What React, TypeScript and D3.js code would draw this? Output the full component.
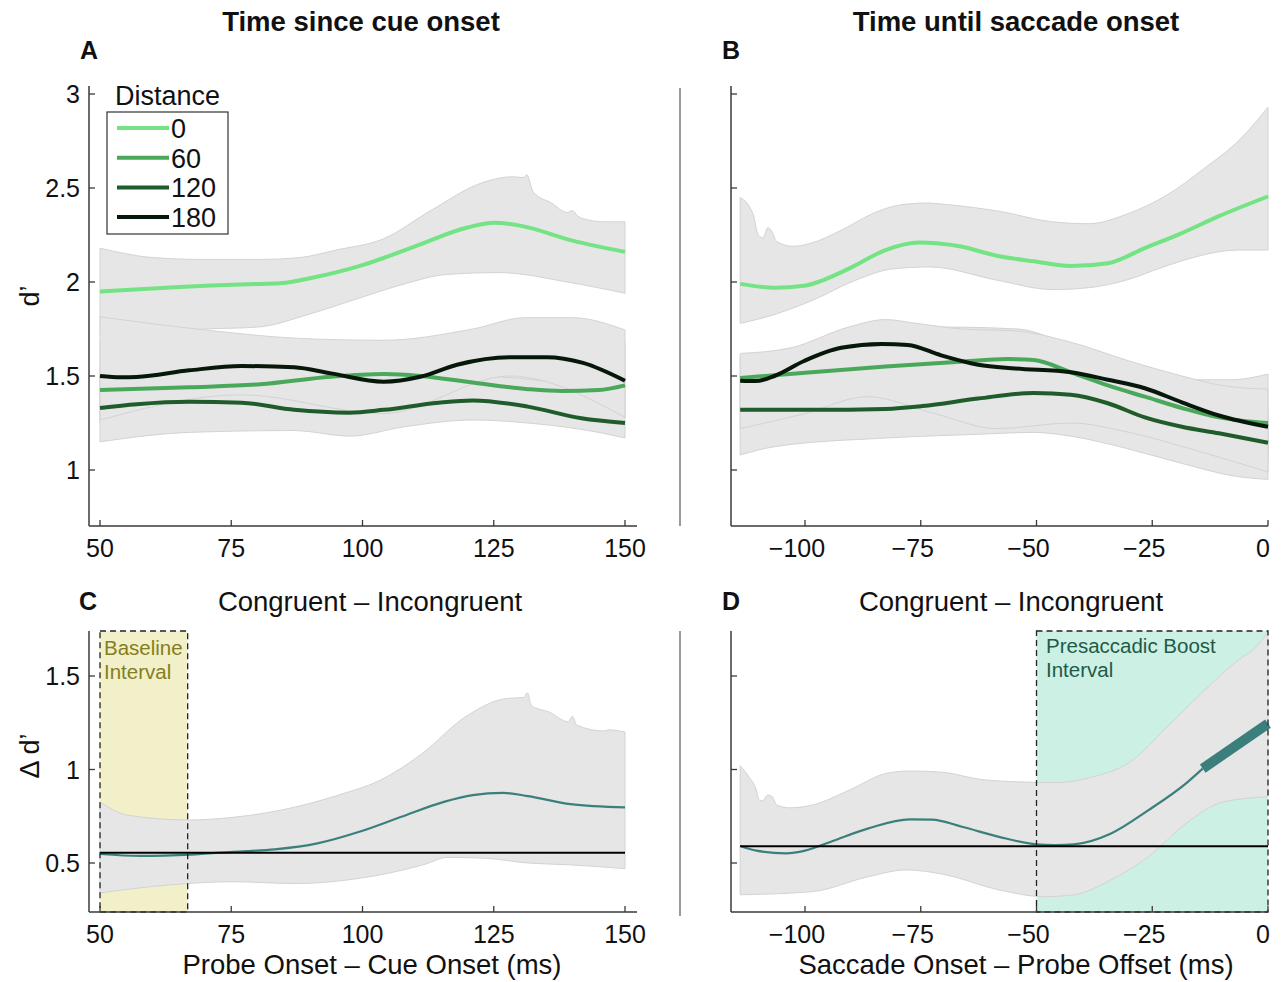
import React from 'react';
import * as d3 from 'd3';

// ---------- Panel A : d' vs time since cue onset ----------
const A_TICKS_X = [50, 75, 100, 125, 150];
const TOP_TICKS_Y = [1, 1.5, 2, 2.5, 3];
const TOP_TICK_LABELS = ['1', '1.5', '2', '2.5', '3'];

const A0_X = [50, 60, 70, 80, 85, 90, 100, 110, 120, 125, 130, 140, 150];
const A0_Y = [1.95, 1.965, 1.98, 1.99, 1.995, 2.02, 2.09, 2.19, 2.29, 2.315, 2.30, 2.22, 2.16];
const A0_UX = [50, 55, 60, 70, 80, 88, 95, 104, 113, 123, 128.6, 130.6, 131.3, 132.5, 136, 139, 140, 141, 143, 146, 150];
const A0_U = [2.18, 2.15, 2.13, 2.12, 2.12, 2.13, 2.17, 2.23, 2.38, 2.53, 2.56, 2.555, 2.57, 2.48, 2.42, 2.37, 2.38, 2.35, 2.33, 2.32, 2.32];
const A0_LX = [50, 60, 70, 80, 90, 100, 108, 116, 126, 139, 150];
const A0_L = [1.72, 1.73, 1.75, 1.76, 1.83, 1.92, 1.99, 2.04, 2.05, 2.0, 1.94];

const A60_X = [50, 67, 80.5, 94, 104, 111, 121, 131.5, 138, 145, 150];
const A60_Y = [1.425, 1.44, 1.456, 1.496, 1.51, 1.50, 1.465, 1.43, 1.42, 1.425, 1.45];
const A60_BX = [50, 80, 104, 121, 138, 150];
const A60_U = [1.68, 1.66, 1.66, 1.68, 1.66, 1.68];
const A60_L = [1.25, 1.28, 1.32, 1.30, 1.27, 1.28];

const A120_X = [50, 57, 67, 77, 87, 97.5, 104, 114.5, 121, 131.5, 141.7, 150];
const A120_Y = [1.33, 1.35, 1.363, 1.358, 1.32, 1.305, 1.32, 1.358, 1.37, 1.337, 1.275, 1.25];
const A120_UX = [50, 77, 104, 121, 141.7, 150];
const A120_U = [1.5, 1.52, 1.48, 1.5, 1.45, 1.42];
const A120_LX = [50, 67, 87, 97.5, 108, 121, 131.5, 145, 150];
const A120_L = [1.15, 1.20, 1.21, 1.18, 1.23, 1.266, 1.25, 1.20, 1.17];

const A180_X = [50, 54, 57, 67, 77, 87, 94, 104, 111, 118, 128, 135, 142, 150];
const A180_Y = [1.50, 1.493, 1.495, 1.53, 1.553, 1.546, 1.514, 1.47, 1.496, 1.56, 1.60, 1.60, 1.57, 1.475];
const A180_UX = [50, 70, 88, 104, 121, 131, 140, 150];
const A180_U = [1.815, 1.745, 1.70, 1.69, 1.75, 1.81, 1.81, 1.745];
const A180_LX = [50, 77, 104, 128, 150];
const A180_L = [1.266, 1.40, 1.30, 1.50, 1.28];

// ---------- Panel B : d' vs time until saccade onset ----------
const B_TICKS_X = [-100, -75, -50, -25, 0];
const B_TICK_LABELS = ['\u2212100', '\u221275', '\u221250', '\u221225', '0'];

const B0_X = [-114, -106.6, -100.2, -90.6, -82.6, -75.4, -66.6, -58.6, -50.6, -42.6, -34.6, -26.6, -18.6, -10.6, 0];
const B0_Y = [1.99, 1.97, 1.98, 2.07, 2.17, 2.21, 2.19, 2.14, 2.11, 2.085, 2.10, 2.18, 2.26, 2.35, 2.455];
const B0_UX = [-114, -111.2, -110.1, -109.1, -108, -107.2, -106.1, -102.6, -98.9, -91.8, -85.3, -79.4, -73.7, -68.6, -57.8, -46.6, -38.6, -30.6, -22, -14, -6, 0];
const B0_U = [2.45, 2.36, 2.25, 2.235, 2.29, 2.27, 2.215, 2.19, 2.205, 2.28, 2.365, 2.41, 2.42, 2.41, 2.375, 2.32, 2.31, 2.36, 2.46, 2.60, 2.76, 2.93];
const B0_LX = [-114, -108.2, -98.6, -89, -81, -73, -58.6, -46.6, -38.6, -30.6, -22.6, -14.6, -6.6, 0];
const B0_L = [1.78, 1.815, 1.90, 2.01, 2.07, 2.08, 2.01, 1.96, 1.97, 2.01, 2.08, 2.14, 2.17, 2.17];

const B60_X = [-114, -98.6, -82.6, -66.6, -56.2, -50.6, -42.6, -34.6, -26.6, -18.6, -10.6, 0];
const B60_Y = [1.49, 1.52, 1.55, 1.576, 1.59, 1.585, 1.52, 1.45, 1.39, 1.33, 1.28, 1.25];
const B60_UX = [-114, -90, -70, -54, -42.6, -30.6, -18.6, -8, 0];
const B60_U = [1.6, 1.7, 1.76, 1.75, 1.66, 1.55, 1.48, 1.48, 1.51];
const B60_LX = [-114, -80, -50, -30, -15, 0];
const B60_L = [1.3, 1.33, 1.33, 1.2, 1.1, 1.05];

const B120_X = [-114, -98.6, -82.6, -74.6, -62.6, -50.6, -42.6, -34.6, -26.6, -18.6, -10.6, 0];
const B120_Y = [1.32, 1.32, 1.325, 1.34, 1.38, 1.41, 1.40, 1.355, 1.28, 1.23, 1.195, 1.145];
const B120_UX = [-114, -80, -50, -30, 0];
const B120_U = [1.5, 1.5, 1.55, 1.45, 1.3];
const B120_LX = [-114, -106.6, -82.6, -62.6, -50.6, -42.6, -30.6, -18.6, -6.6, 0];
const B120_L = [1.08, 1.124, 1.17, 1.19, 1.20, 1.18, 1.115, 1.035, 0.965, 0.95];

const B180_X = [-114, -110.6, -106.6, -100.2, -92.2, -83.4, -77.8, -70.6, -62.6, -54.6, -42.6, -34.6, -26.6, -18.6, -10.6, 0];
const B180_Y = [1.475, 1.473, 1.50, 1.58, 1.65, 1.67, 1.665, 1.61, 1.56, 1.54, 1.52, 1.48, 1.435, 1.36, 1.29, 1.23];
const B180_UX = [-114, -103, -90.6, -82.6, -76, -66, -54.6, -42.6, -30, -18.6, -10, 0];
const B180_U = [1.62, 1.65, 1.76, 1.80, 1.78, 1.75, 1.74, 1.68, 1.58, 1.50, 1.45, 1.43];
const B180_LX = [-114, -100, -86.6, -72, -58.6, -42.6, -30, -15, 0];
const B180_L = [1.22, 1.30, 1.39, 1.30, 1.22, 1.25, 1.20, 1.10, 0.99];

// ---------- Panel C : congruent - incongruent, cue-locked ----------
const BOTTOM_TICKS_Y = [0.5, 1, 1.5];
const BOTTOM_TICK_LABELS = ['0.5', '1', '1.5'];
const C_X = [50, 57.6, 67.3, 75.3, 83.3, 91.4, 99.4, 107.4, 115.5, 121, 126.7, 131.5, 139.6, 150];
const C_Y = [0.548, 0.538, 0.545, 0.56, 0.573, 0.605, 0.667, 0.747, 0.827, 0.863, 0.875, 0.858, 0.815, 0.797];
const C_UX = [50, 55.2, 66.9, 75.3, 87.3, 95.4, 103.4, 111.4, 119.5, 127.5, 130.7, 131.4, 132.2, 135.5, 139.2, 140, 140.8, 146, 147, 150];
const C_U = [0.827, 0.756, 0.73, 0.744, 0.80, 0.863, 0.943, 1.086, 1.28, 1.38, 1.385, 1.41, 1.34, 1.308, 1.255, 1.285, 1.237, 1.206, 1.212, 1.20];
const C_LX = [50, 63.3, 75.3, 87.3, 99.4, 111.4, 116.3, 123.5, 131.5, 139.6, 150];
const C_L = [0.34, 0.383, 0.40, 0.39, 0.418, 0.489, 0.53, 0.525, 0.50, 0.49, 0.47];
const C_BASELINE = 0.555;
const C_INTERVAL = [50, 66.7];

// ---------- Panel D : congruent - incongruent, saccade-locked ----------
const D_X = [-114, -110.5, -104.1, -100, -94.4, -86.3, -77.4, -72.6, -66.1, -58.1, -50, -46, -41.9, -33.9, -25.8, -17.7, -14.1, 0];
const D_Y = [0.591, 0.566, 0.552, 0.566, 0.614, 0.685, 0.733, 0.732, 0.694, 0.64, 0.60, 0.596, 0.60, 0.658, 0.783, 0.926, 1.005, 1.245];
const D_BOLD_FROM = -14.1;
const D_UX = [-114, -112.1, -110.5, -109.9, -109.1, -108.1, -107.1, -106.1, -103.3, -98.4, -90.4, -82.3, -77.4, -70.2, -62.1, -54, -46, -37.9, -29.8, -21.8, -13.7, -5.6, -3.2, 0];
const D_U = [1.02, 0.96, 0.89, 0.836, 0.832, 0.863, 0.855, 0.81, 0.795, 0.81, 0.89, 0.98, 0.992, 0.985, 0.947, 0.934, 0.93, 0.96, 1.04, 1.228, 1.424, 1.60, 1.64, 1.735];
const D_LX = [-114, -98.4, -86.3, -78.2, -70.2, -58.1, -48.4, -41.9, -33.9, -25.8, -17.7, -9.6, 0];
const D_L = [0.33, 0.347, 0.427, 0.463, 0.44, 0.356, 0.32, 0.33, 0.41, 0.534, 0.712, 0.827, 0.854];
const D_BASELINE = 0.59;
const D_INTERVAL = [-50, 0];

const LEGEND_LABELS = ['0', '60', '120', '180'];
const COLORS = ['#74e384', '#4aa85a', '#1f5c2a', '#07180b'];
const TEAL = '#3b7f7d';
const FONT = "'Liberation Sans', Arial, Helvetica, sans-serif";

type P = [number, number];
const zip = (xs: number[], ys: number[]): P[] => xs.map((x, i) => [x, ys[i]]);

function makeLine(sx: any, sy: any) {
  return d3.line<P>().x(d => sx(d[0])).y(d => sy(d[1])).curve(d3.curveMonotoneX);
}
function bandPath(sx: any, sy: any, ux: number[], u: number[], lx: number[], l: number[]) {
  const g = makeLine(sx, sy);
  const up = g(zip(ux, u)) || '';
  const low = zip(lx, l).reverse();
  const lp = (g(low) || '').replace(/^M/, 'L');
  return up + lp + 'Z';
}

// scales
const xA = d3.scaleLinear().domain([50, 150]).range([100, 625]);
const xB = d3.scaleLinear().domain([-100, 0]).range([805, 1268]);
const yTop = d3.scaleLinear().domain([1, 3]).range([470, 94]);
const yBot = d3.scaleLinear().domain([0.5, 1.5]).range([863, 676]);

const BAND_FILL = '#e6e6e6';
const BAND_STROKE = '#d3d3d3';
const AX = '#3a3a3a';
const TICK_FS = 25;

function Axes({ x0, x1, yTopPx, yBotPx, sx, sy, xt, xl, yt, yl }: any) {
  return (
    <g>
      <line x1={x0} x2={x0} y1={yTopPx} y2={yBotPx} stroke={AX} strokeWidth={1.5} />
      <line x1={x0} x2={x1} y1={yBotPx} y2={yBotPx} stroke={AX} strokeWidth={1.5} />
      {yt.map((t: number, i: number) => (
        <g key={'y' + i}>
          <line x1={x0} x2={x0 + 6} y1={sy(t)} y2={sy(t)} stroke={AX} strokeWidth={1.3} />
          {yl && (
            <text x={x0 - 9} y={sy(t)} textAnchor="end" dominantBaseline="central" fontSize={TICK_FS} fontFamily={FONT} fill="#111">{yl[i]}</text>
          )}
        </g>
      ))}
      {xt.map((t: number, i: number) => (
        <g key={'x' + i}>
          <line x1={sx(t)} x2={sx(t)} y1={yBotPx} y2={yBotPx - 6} stroke={AX} strokeWidth={1.3} />
          <text x={sx(t) + (t < 0 ? -8 : t === 0 ? -5 : 0)} y={yBotPx + 22} textAnchor="middle" dominantBaseline="central" fontSize={TICK_FS} fontFamily={FONT} fill="#111">{xl[i]}</text>
        </g>
      ))}
    </g>
  );
}

export default function App() {
  const lA = makeLine(xA, yTop);
  const lB = makeLine(xB, yTop);
  const lC = makeLine(xA, yBot);
  const lD = makeLine(xB, yBot);

  const aSeries = [
    { x: A0_X, y: A0_Y, ux: A0_UX, u: A0_U, lx: A0_LX, l: A0_L },
    { x: A60_X, y: A60_Y, ux: A60_BX, u: A60_U, lx: A60_BX, l: A60_L },
    { x: A120_X, y: A120_Y, ux: A120_UX, u: A120_U, lx: A120_LX, l: A120_L },
    { x: A180_X, y: A180_Y, ux: A180_UX, u: A180_U, lx: A180_LX, l: A180_L },
  ];
  const bSeries = [
    { x: B0_X, y: B0_Y, ux: B0_UX, u: B0_U, lx: B0_LX, l: B0_L },
    { x: B60_X, y: B60_Y, ux: B60_UX, u: B60_U, lx: B60_LX, l: B60_L },
    { x: B120_X, y: B120_Y, ux: B120_UX, u: B120_U, lx: B120_LX, l: B120_L },
    { x: B180_X, y: B180_Y, ux: B180_UX, u: B180_U, lx: B180_LX, l: B180_L },
  ];

  const dPts = zip(D_X, D_Y);
  const dThin = dPts.filter(p => p[0] <= D_BOLD_FROM);
  const dBold = dPts.filter(p => p[0] >= D_BOLD_FROM);

  const tFont = { fontFamily: FONT, fill: '#111' };

  return (
    <svg width={1285} height={982} style={{ position: 'absolute', left: 0, top: 0, background: '#fff' }}>
      <rect x={0} y={0} width={1285} height={982} fill="#fff" />
      {/* column titles */}
      <text x={361} y={21} textAnchor="middle" dominantBaseline="central" fontSize={27.5} fontWeight="bold" {...tFont}>Time since cue onset</text>
      <text x={1016} y={21} textAnchor="middle" dominantBaseline="central" fontSize={27.5} fontWeight="bold" {...tFont}>Time until saccade onset</text>
      <text x={80} y={50} dominantBaseline="central" fontSize={25} fontWeight="bold" {...tFont}>A</text>
      <text x={722} y={50} dominantBaseline="central" fontSize={25} fontWeight="bold" {...tFont}>B</text>
      <text x={79} y={601} dominantBaseline="central" fontSize={25} fontWeight="bold" {...tFont}>C</text>
      <text x={722} y={601} dominantBaseline="central" fontSize={25} fontWeight="bold" {...tFont}>D</text>
      <text x={370} y={601} textAnchor="middle" dominantBaseline="central" fontSize={27.5} {...tFont}>Congruent – Incongruent</text>
      <text x={1011} y={601} textAnchor="middle" dominantBaseline="central" fontSize={27.5} {...tFont}>Congruent – Incongruent</text>

      {/* separators */}
      <line x1={680} x2={680} y1={88} y2={526} stroke="#9a9a9a" strokeWidth={2} />
      <line x1={680} x2={680} y1={631} y2={916} stroke="#9a9a9a" strokeWidth={2} />

      {/* Panel A */}
      {aSeries.map((s, i) => (
        <path key={'ab' + i} d={bandPath(xA, yTop, s.ux, s.u, s.lx, s.l)} fill={BAND_FILL} stroke={BAND_STROKE} strokeWidth={1} />
      ))}
      {aSeries.map((s, i) => (
        <path key={'al' + i} d={lA(zip(s.x, s.y)) || ''} fill="none" stroke={COLORS[i]} strokeWidth={4} />
      ))}
      <Axes x0={89} x1={637} yTopPx={86} yBotPx={526} sx={xA} sy={yTop} xt={A_TICKS_X} xl={A_TICKS_X.map(String)} yt={TOP_TICKS_Y} yl={TOP_TICK_LABELS} />
      <text transform="translate(30,296) rotate(-90)" textAnchor="middle" dominantBaseline="central" fontSize={27} {...tFont}>d’</text>

      {/* legend */}
      <text x={115} y={96} dominantBaseline="central" fontSize={27} {...tFont}>Distance</text>
      <rect x={107} y={112} width={121} height={122} fill="#fff" stroke="#333" strokeWidth={1.2} />
      {LEGEND_LABELS.map((lab, i) => (
        <g key={'lg' + i}>
          <line x1={117} x2={169} y1={128 + i * 29.7} y2={128 + i * 29.7} stroke={COLORS[i]} strokeWidth={4} />
          <text x={171} y={129 + i * 29.7} dominantBaseline="central" fontSize={27} {...tFont}>{lab}</text>
        </g>
      ))}

      {/* Panel B */}
      {bSeries.map((s, i) => (
        <path key={'bb' + i} d={bandPath(xB, yTop, s.ux, s.u, s.lx, s.l)} fill={BAND_FILL} stroke={BAND_STROKE} strokeWidth={1} />
      ))}
      {bSeries.map((s, i) => (
        <path key={'bl' + i} d={lB(zip(s.x, s.y)) || ''} fill="none" stroke={COLORS[i]} strokeWidth={4} />
      ))}
      <Axes x0={731} x1={1268} yTopPx={86} yBotPx={526} sx={xB} sy={yTop} xt={B_TICKS_X} xl={B_TICK_LABELS} yt={TOP_TICKS_Y} yl={null} />

      {/* Panel C */}
      <rect x={xA(C_INTERVAL[0])} y={631} width={xA(C_INTERVAL[1]) - xA(C_INTERVAL[0])} height={281} fill="#f1f0c8" />
      <path d={bandPath(xA, yBot, C_UX, C_U, C_LX, C_L)} fill={BAND_FILL} stroke={BAND_STROKE} strokeWidth={1} />
      <path d={lC(zip(C_X, C_Y)) || ''} fill="none" stroke={TEAL} strokeWidth={2.2} />
      <line x1={xA(50)} x2={xA(150)} y1={yBot(C_BASELINE)} y2={yBot(C_BASELINE)} stroke="#000" strokeWidth={2} />
      <rect x={xA(C_INTERVAL[0])} y={631} width={xA(C_INTERVAL[1]) - xA(C_INTERVAL[0])} height={281} fill="none" stroke="#222" strokeWidth={1.3} strokeDasharray="6,4" />
      <text x={104} y={647} dominantBaseline="central" fontSize={20.5} fontFamily={FONT} fill="#857e1f">Baseline</text>
      <text x={104} y={671} dominantBaseline="central" fontSize={20.5} fontFamily={FONT} fill="#857e1f">Interval</text>
      <Axes x0={89} x1={637} yTopPx={631} yBotPx={912} sx={xA} sy={yBot} xt={A_TICKS_X} xl={A_TICKS_X.map(String)} yt={BOTTOM_TICKS_Y} yl={BOTTOM_TICK_LABELS} />
      <text transform="translate(30,756) rotate(-90)" textAnchor="middle" dominantBaseline="central" fontSize={27} {...tFont}>Δ d’</text>
      <text x={372} y={964} textAnchor="middle" dominantBaseline="central" fontSize={27.5} {...tFont}>Probe Onset – Cue Onset (ms)</text>

      {/* Panel D */}
      <rect x={xB(D_INTERVAL[0])} y={631} width={xB(D_INTERVAL[1]) - xB(D_INTERVAL[0])} height={281} fill="#ccf0e3" />
      <path d={bandPath(xB, yBot, D_UX, D_U, D_LX, D_L)} fill={BAND_FILL} stroke={BAND_STROKE} strokeWidth={1} />
      <path d={lD(dThin) || ''} fill="none" stroke={TEAL} strokeWidth={2.2} />
      <path d={d3.line<P>().x(d => xB(d[0])).y(d => yBot(d[1]))(dBold) || ''} fill="none" stroke={TEAL} strokeWidth={10} />
      <line x1={xB(-114)} x2={xB(0)} y1={yBot(D_BASELINE)} y2={yBot(D_BASELINE)} stroke="#000" strokeWidth={2} />
      <rect x={xB(D_INTERVAL[0])} y={631} width={xB(D_INTERVAL[1]) - xB(D_INTERVAL[0])} height={281} fill="none" stroke="#222" strokeWidth={1.3} strokeDasharray="6,4" />
      <text x={1046} y={645} dominantBaseline="central" fontSize={20.5} fontFamily={FONT} fill="#1f5a48">Presaccadic Boost</text>
      <text x={1046} y={669} dominantBaseline="central" fontSize={20.5} fontFamily={FONT} fill="#1f5a48">Interval</text>
      <Axes x0={731} x1={1268} yTopPx={631} yBotPx={912} sx={xB} sy={yBot} xt={B_TICKS_X} xl={B_TICK_LABELS} yt={BOTTOM_TICKS_Y} yl={null} />
      <text x={1016} y={964} textAnchor="middle" dominantBaseline="central" fontSize={27.5} {...tFont}>Saccade Onset – Probe Offset (ms)</text>
    </svg>
  );
}
